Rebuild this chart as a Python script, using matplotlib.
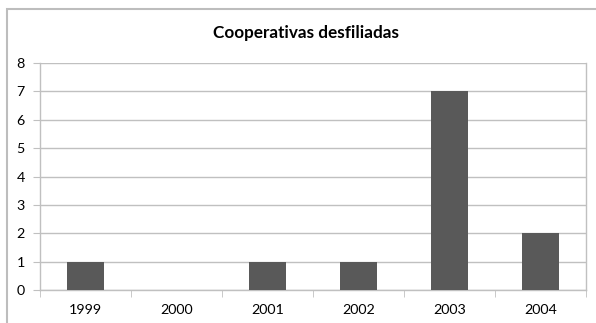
import matplotlib.pyplot as plt
from matplotlib.patches import Rectangle
import numpy as np

years = ["1999", "2000", "2001", "2002", "2003", "2004"]
counts = [1, 0, 1, 1, 7, 2]

plt.rcParams['font.family'] = ['Lato', 'DejaVu Sans']

fig = plt.figure(figsize=(5.96, 3.23), dpi=100)
ax = fig.add_axes([40 / 596, 1 - 290 / 323, 546 / 596, 227 / 323])

# chart frame, runs off the right and bottom edges
fig.patches.append(Rectangle((7 / 596, -0.1), 1.0, 1 - 9 / 323 + 0.1,
                             transform=fig.transFigure, fill=False,
                             edgecolor='#bdbdbd', linewidth=1.5))

x = np.arange(len(years))
ax.bar(x, counts, width=0.4, color='#595959', zorder=3)

ax.set_xlim(-0.5, len(years) - 0.5)
ax.set_ylim(0, 8)
ax.set_yticks(range(0, 9))
ax.set_xticks(x)
ax.set_xticklabels(years)
ax.set_xticks(np.arange(-0.5, len(years)), minor=True)
ax.grid(axis='y', color='#c0c0c0', linewidth=1, zorder=0)

ax.spines['top'].set_visible(False)
for side in ['left', 'bottom', 'right']:
    ax.spines[side].set_color('#c0c0c0')
    ax.spines[side].set_linewidth(1)

ax.tick_params(axis='x', which='major', length=0, pad=10, labelsize=10.3)
ax.tick_params(axis='x', which='minor', length=5, color='#c0c0c0')
ax.tick_params(axis='y', length=5, color='#c0c0c0', pad=6, labelsize=10.3)

fig.text(306 / 596, 1 - 33 / 323, "Cooperativas desfiliadas", ha='center', va='center',
         fontsize=12.3, fontweight='bold')

fig.savefig("out.png", dpi=100)
